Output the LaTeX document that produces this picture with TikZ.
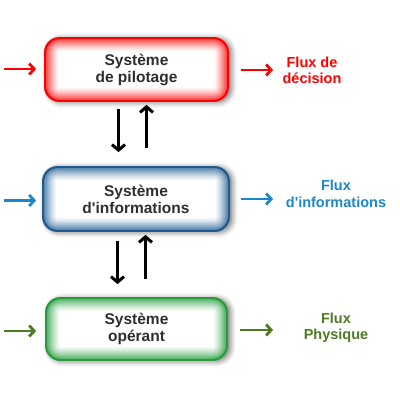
\documentclass[tikz,border=0pt]{standalone}
\usepackage{fontspec}
\setmainfont{Liberation Sans}
\usetikzlibrary{arrows.meta,backgrounds,shadows.blur}

\definecolor{pilotred}{HTML}{FF0000}
\definecolor{pilotglow}{HTML}{FF2A2A}
\definecolor{infoline}{HTML}{1F5A8A}
\definecolor{infoglow}{HTML}{3F74A4}
\definecolor{infoblue}{HTML}{1C87C8}
\definecolor{operline}{HTML}{2A9A3C}
\definecolor{operglow}{HTML}{3DA853}
\definecolor{opergreen}{HTML}{4E7A24}

\begin{document}
\begin{tikzpicture}[x=1pt, y=1pt,
        sysbox/.style={rounded corners=15pt, line width=1.8pt, align=center,
            font=\fontsize{15.5}{17}\selectfont\bfseries, text=black!82},
        fluxlabel/.style={align=center, font=\fontsize{14.5}{16.5}\selectfont\bfseries},
        flux/.style={line width=2.8pt, -{Straight Barb[length=5pt, width=11pt]}},
        link/.style={line width=3pt, -{Straight Barb[length=5.5pt, width=13pt]}}]
    \useasboundingbox (0,0) rectangle (400,400);

    \node[sysbox, draw=pilotred, minimum width=183pt, minimum height=63pt] (pilot) at (136.5,330.5) {Système\\de pilotage};
    \node[sysbox, draw=infoline, minimum width=186pt, minimum height=64pt] (info) at (136,201) {Système\\d\textquotesingle informations};
    \node[sysbox, draw=operline, minimum width=181pt, minimum height=62pt] (oper) at (136.5,71) {Système\\opérant};

    % glow inside the boxes
    \begin{scope}[on background layer]
        \foreach \b/\c in {pilot/pilotglow, info/infoglow, oper/operglow} {
            \fill[\c, rounded corners=15pt, blur shadow={shadow xshift=3pt, shadow yshift=-1pt, shadow blur radius=5pt, shadow opacity=50}]
                (\b.north west) rectangle (\b.south east);
            \foreach \k/\p in {1/92,2/84,3/76,4/68,5/60,6/52,7/44,8/37,9/30,10/23,11/17,12/11,13/6,14/2,15/0}
                \fill[\c!\p!white, rounded corners={max(15pt-\k pt,1pt)}]
                    ([shift={(\k,-\k)}]\b.north west) rectangle ([shift={(-\k,\k)}]\b.south east);
        }
    \end{scope}

    \node[fluxlabel, text=pilotred] (dec) at (312,329.5) {Flux de\\décision};
    \node[fluxlabel, text=infoblue] (infolab) at (336,206) {Flux\\d\textquotesingle informations};
    \node[fluxlabel, text=opergreen] (physlab) at (336,72) {Flux\\Physique};

    \coordinate (pilot in) at (4,331);
    \coordinate (pilot out) at (273,330);
    \coordinate (info in) at (4,199.5);
    \coordinate (info out) at (273,201);
    \coordinate (oper in) at (4,69);
    \coordinate (oper out) at (273,70);

    \draw[flux, pilotred, shorten >=8pt] (pilot in) -- (pilot in -| pilot.west);
    \draw[flux, pilotred, shorten <=12pt] (pilot out -| pilot.east) -- (pilot out);
    \draw[flux, infoblue, shorten >=6pt] (info in) -- (info in -| info.west);
    \draw[flux, infoblue, shorten <=11pt] (info out -| info.east) -- (info out);
    \draw[flux, opergreen, shorten >=9pt] (oper in) -- (oper in -| oper.west);
    \draw[flux, opergreen, shorten <=12pt] (oper out -| oper.east) -- (oper out);

    \draw[link, shorten <=7pt, shorten >=14pt] ([xshift=-18pt]pilot.south) -- ([xshift=-18pt]pilot.south |- info.north);
    \draw[link, shorten <=18pt, shorten >=3pt] ([xshift=10pt]pilot.south |- info.north) -- ([xshift=10pt]pilot.south);
    \draw[link, shorten <=9pt, shorten >=13pt] ([xshift=-19pt]oper.north |- info.south) -- ([xshift=-19pt]oper.north);
    \draw[link, shorten <=18pt, shorten >=3pt] ([xshift=9pt]oper.north) -- ([xshift=9pt]oper.north |- info.south);
\end{tikzpicture}
\end{document}
